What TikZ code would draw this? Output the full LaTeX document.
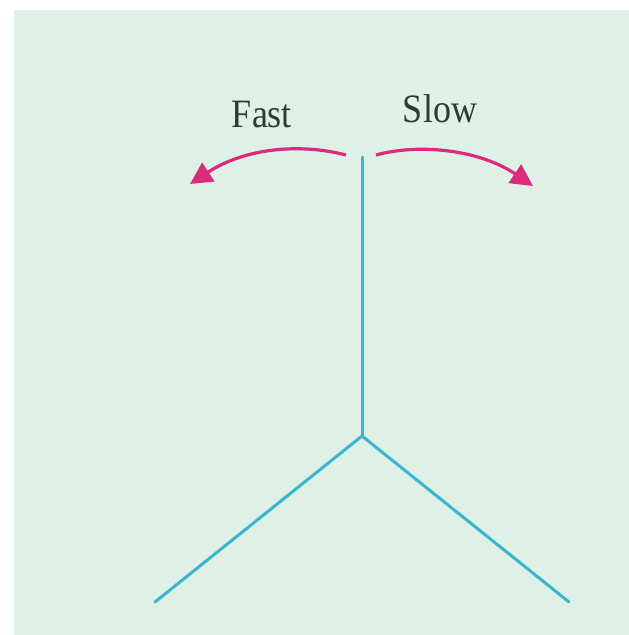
\documentclass[tikz,border=0pt]{standalone}
\usepackage{fontspec}
\setmainfont{Liberation Serif}
\usetikzlibrary{arrows.meta}
\definecolor{panel}{HTML}{DFF0E6}
\definecolor{stem}{HTML}{3AB6CE}
\definecolor{swing}{HTML}{DE2A7C}
\definecolor{ink}{HTML}{2E3A34}
\tikzset{
  lbl/.style={font=\fontsize{36}{36}\selectfont, text=ink, inner sep=0pt, anchor=base, yscale=1.12, transform shape},
  stemline/.style={draw=stem, line width=3pt, line cap=round},
  swingarrow/.style={draw=swing, line width=3.2pt, -{Triangle[length=22pt,width=22pt]}}
}
\begin{document}
\begin{tikzpicture}[x=1pt,y=-1pt]
\useasboundingbox (0,0) rectangle (629,635);
\fill[white] (0,0) rectangle (629,635);
\fill[panel] (14,10) rectangle (629,635);
% labels
\node[lbl] (fast) at (262,127) {Fast};
\node[lbl] (slow) at (440,122) {Slow};
% stem
\coordinate (top) at (362,157);
\coordinate (hub) at (362,436);
\coordinate (lft) at (155,602);
\coordinate (rgt) at (569,602);
\draw[stemline] (top) -- (hub);
\draw[stemline] (lft) -- (hub) -- (rgt);
% arrows
\coordinate (fs) at (346,155);
\coordinate (fe) at (190,184);
\coordinate (ss) at (376,155);
\coordinate (se) at (533,186);
\draw[swingarrow] (fs) .. controls (300,143) and (245,148) .. (fe);
\draw[swingarrow] (ss) .. controls (420,143) and (480,150) .. (se);
\end{tikzpicture}
\end{document}
